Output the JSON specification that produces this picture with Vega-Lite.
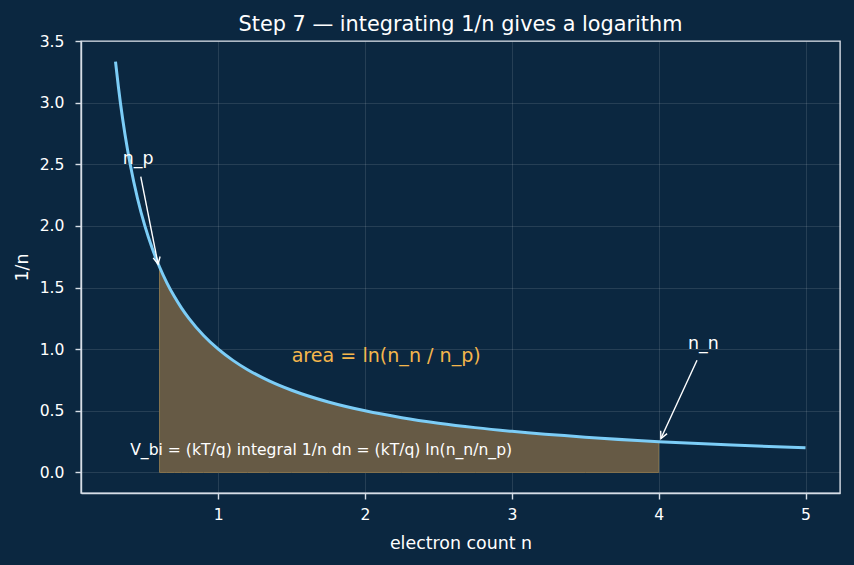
{
  "$schema": "https://vega.github.io/schema/vega-lite/v6.json",
  "width": 759,
  "height": 452,
  "autosize": {"type": "none"},
  "padding": {"left": 81, "top": 41, "right": 14, "bottom": 72},
  "background": "#0b2740",
  "title": {
    "text": "Step 7 — integrating 1/n gives a logarithm",
    "font": "DejaVu Sans",
    "fontSize": 20.8,
    "fontWeight": "normal",
    "color": "#ffffff",
    "anchor": "middle",
    "baseline": "bottom",
    "offset": 0,
    "dy": 22
  },
  "config": {
    "font": "DejaVu Sans",
    "view": {"stroke": "#d7dee7", "strokeWidth": 1.4},
    "axis": {
      "domainColor": "#d7dee7",
      "domainWidth": 1.4,
      "tickColor": "#d7dee7",
      "tickSize": 6,
      "tickWidth": 1.4,
      "labelColor": "#ffffff",
      "labelFontSize": 15.6,
      "labelFont": "DejaVu Sans",
      "labelPadding": 8,
      "titleColor": "#ffffff",
      "titleFontSize": 17.4,
      "titleFontWeight": "normal",
      "titleFont": "DejaVu Sans",
      "gridColor": "#ffffff",
      "gridOpacity": 0.13,
      "gridWidth": 0.9
    }
  },
  "datasets": {
    "curve": [
      {"n": 0.3, "inv": 3.3333},
      {"n": 0.32, "inv": 3.125},
      {"n": 0.35, "inv": 2.8571},
      {"n": 0.38, "inv": 2.6316},
      {"n": 0.4, "inv": 2.5},
      {"n": 0.45, "inv": 2.2222},
      {"n": 0.5, "inv": 2.0},
      {"n": 0.55, "inv": 1.8182},
      {"n": 0.6, "inv": 1.6667},
      {"n": 0.65, "inv": 1.5385},
      {"n": 0.7, "inv": 1.4286},
      {"n": 0.75, "inv": 1.3333},
      {"n": 0.8, "inv": 1.25},
      {"n": 0.9, "inv": 1.1111},
      {"n": 1.0, "inv": 1.0},
      {"n": 1.1, "inv": 0.9091},
      {"n": 1.2, "inv": 0.8333},
      {"n": 1.35, "inv": 0.7407},
      {"n": 1.5, "inv": 0.6667},
      {"n": 1.75, "inv": 0.5714},
      {"n": 2.0, "inv": 0.5},
      {"n": 2.25, "inv": 0.4444},
      {"n": 2.5, "inv": 0.4},
      {"n": 2.75, "inv": 0.3636},
      {"n": 3.0, "inv": 0.3333},
      {"n": 3.5, "inv": 0.2857},
      {"n": 4.0, "inv": 0.25},
      {"n": 4.5, "inv": 0.2222},
      {"n": 5.0, "inv": 0.2}
    ],
    "arrows": [
      {"label": "n_p", "n": 0.472, "inv": 2.4, "n2": 0.59, "inv2": 1.69, "angle": -11.7},
      {"label": "n_n", "n": 4.261, "inv": 0.91, "n2": 4.015, "inv2": 0.275, "angle": 25.2}
    ],
    "labels": [
      {"label": "n_p", "n": 0.35, "inv": 2.5},
      {"label": "n_n", "n": 4.2, "inv": 1.0}
    ]
  },
  "encoding": {
    "x": {
      "field": "n",
      "type": "quantitative",
      "scale": {"domain": [0.065, 5.235], "nice": false, "zero": false},
      "axis": {"values": [1, 2, 3, 4, 5], "format": "d", "title": "electron count n", "titlePadding": 12, "grid": true}
    },
    "y": {
      "field": "inv",
      "type": "quantitative",
      "scale": {"domain": [-0.1667, 3.5], "nice": false, "zero": false},
      "axis": {"values": [0, 0.5, 1, 1.5, 2, 2.5, 3, 3.5], "format": ".1f", "title": "1/n", "labelPadding": 11, "titlePadding": 8, "grid": true}
    }
  },
  "layer": [
    {
      "data": {"name": "curve"},
      "transform": [{"filter": "datum.n >= 0.6 && datum.n <= 4"}],
      "mark": {"type": "area", "color": "#665a45", "fillOpacity": 1, "stroke": "#87744f", "strokeWidth": 1, "interpolate": "monotone"},
      "encoding": {"y2": {"datum": 0}}
    },
    {
      "data": {"name": "curve"},
      "mark": {"type": "line", "color": "#7ccdf7", "strokeWidth": 3, "interpolate": "monotone"}
    },
    {
      "data": {"name": "arrows"},
      "mark": {"type": "rule", "color": "#ffffff", "strokeWidth": 1.4},
      "encoding": {"x2": {"field": "n2"}, "y2": {"field": "inv2"}}
    },
    {
      "data": {"name": "arrows"},
      "mark": {"type": "point", "shape": "M -0.5 -1 L 0 0 L 0.5 -1", "filled": false, "color": "#ffffff", "strokeWidth": 1.4, "size": 200, "opacity": 1},
      "encoding": {
        "x": {"field": "n2", "type": "quantitative"},
        "y": {"field": "inv2", "type": "quantitative"},
        "angle": {"field": "angle", "type": "quantitative", "scale": null}
      }
    },
    {
      "data": {"name": "labels"},
      "mark": {"type": "text", "align": "left", "baseline": "alphabetic", "color": "#ffffff", "fontSize": 17.4},
      "encoding": {"text": {"field": "label"}}
    },
    {
      "data": {"values": [{"label": "area = ln(n_n / n_p)", "n": 1.5, "inv": 0.9}]},
      "mark": {"type": "text", "align": "left", "baseline": "alphabetic", "color": "#f4b64c", "fontSize": 19.1},
      "encoding": {"text": {"field": "label"}}
    },
    {
      "data": {"values": [{"label": "V_bi = (kT/q) integral 1/n dn = (kT/q) ln(n_n/n_p)", "n": 0.4, "inv": 0.18}]},
      "mark": {"type": "text", "align": "left", "baseline": "middle", "color": "#ffffff", "fontSize": 15.6},
      "encoding": {"text": {"field": "label"}}
    }
  ]
}
